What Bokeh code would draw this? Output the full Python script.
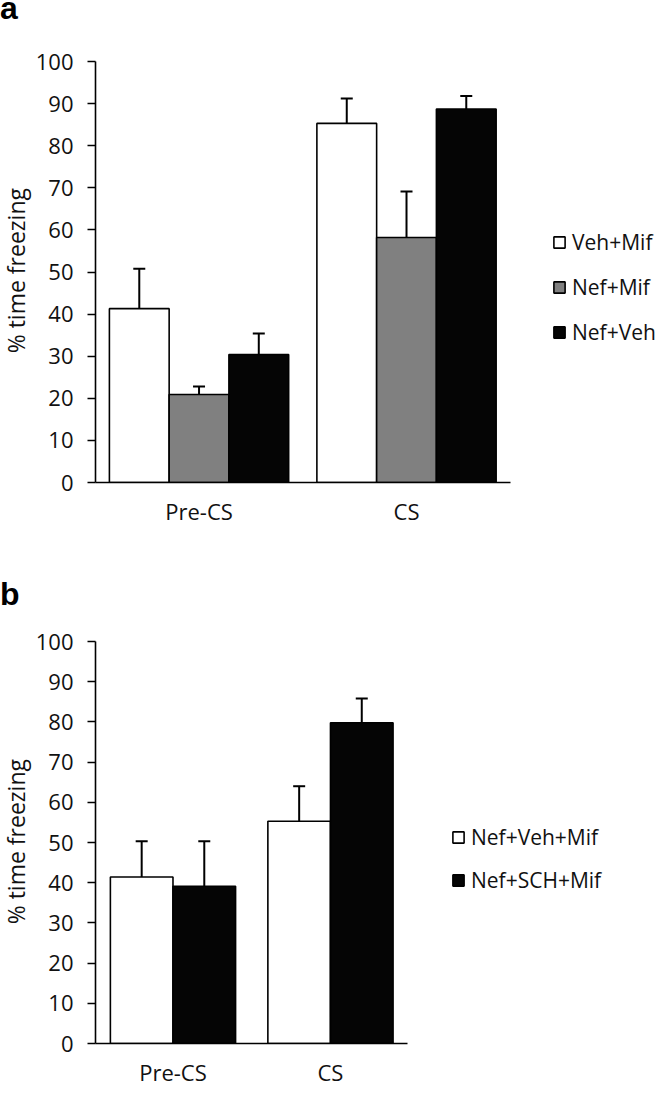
from bokeh.plotting import figure
from bokeh.models import (ColumnDataSource, Range1d, FixedTicker, Div, Legend, LegendItem)
from bokeh.layouts import column, row
from bokeh.embed import file_html
from bokeh.resources import INLINE

# ---------------- data ----------------
groups = ["Pre-CS", "CS"]
y_ticks = [0, 10, 20, 30, 40, 50, 60, 70, 80, 90, 100]
y_title = "% time freezing"

a_series = ["Veh+Mif", "Nef+Mif", "Nef+Veh"]
a_colors = ["#ffffff", "#808080", "#050505"]
a_means = [[41.3, 85.3], [20.9, 58.2], [30.4, 88.7]]
a_errs = [[9.5, 5.9], [1.9, 10.9], [5.0, 3.1]]

b_series = ["Nef+Veh+Mif", "Nef+SCH+Mif"]
b_colors = ["#ffffff", "#050505"]
b_means = [[41.4, 55.3], [39.1, 79.8]]
b_errs = [[8.9, 8.7], [11.2, 6.0]]

FONT = "Open Sans"
W = 658
TW = 32  # width of the y-title strip


def letter_div(letter, height, pad_top):
    html = ('<div style="font-family:\'Liberation Sans\';font-weight:bold;font-size:32px;'
            'line-height:16px;color:black;padding-top:%dpx;margin:0;">%s</div>' % (pad_top, letter))
    return Div(text=html, width=60, height=height, margin=(0, 0, 0, 0))


def title_div(height, center_h):
    html = ('<div style="width:%dpx;height:%dpx;display:flex;align-items:center;'
            'justify-content:center;overflow:visible;">'
            '<span style="writing-mode:vertical-rl;transform:rotate(180deg);'
            'font-family:\'Open Sans\';font-size:23px;line-height:32px;color:#111111;'
            'white-space:nowrap;">%s</span></div>' % (TW, center_h, y_title))
    return Div(text=html, width=TW, height=height, margin=(0, 0, 0, 0))


def make_panel(series, colors, means, errs, height, border_top, frame_h,
               bar_w, x_start, x_end, legend_loc, legend_spacing):
    p = figure(x_range=Range1d(x_start, x_end), y_range=Range1d(0, 100),
               width=W - TW, height=height, output_backend="svg", toolbar_location=None,
               min_border_left=95 - TW, min_border_top=border_top, min_border_right=0,
               min_border_bottom=height - border_top - frame_h, frame_align=False,
               margin=(0, 0, 0, 0))
    p.outline_line_color = None
    p.xgrid.grid_line_color = None
    p.ygrid.grid_line_color = None

    n = len(series)
    gidx = list(range(len(groups)))
    items = []
    for i, (name, col, m, e) in enumerate(zip(series, colors, means, errs)):
        off = (i - (n - 1) / 2.0) * bar_w
        src = ColumnDataSource(dict(x=[g + off for g in gidx], value=m,
                                    upper=[v + d for v, d in zip(m, e)]))
        r = p.vbar(x="x", top="value", width=bar_w, source=src, fill_color=col,
                   line_color="black", line_width=1.6)
        p.segment(x0="x", y0="value", x1="x", y1="upper", source=src,
                  line_color="black", line_width=2)
        p.scatter(x="x", y="upper", marker="dash", size=12, source=src,
                  line_color="black", line_width=2)
        items.append(LegendItem(label=name, renderers=[r]))

    ya = p.yaxis[0]
    ya.ticker = FixedTicker(ticks=y_ticks)
    ya.minor_tick_line_color = None
    ya.major_tick_in = 0
    ya.major_tick_out = 8
    ya.major_tick_line_width = 1.6
    ya.axis_line_width = 1.6
    ya.axis_line_color = "black"
    ya.major_tick_line_color = "black"
    ya.major_label_text_font = FONT
    ya.major_label_text_font_size = "22px"
    ya.major_label_text_color = "#111111"
    ya.major_label_standoff = 14

    xa = p.xaxis[0]
    xa.ticker = FixedTicker(ticks=gidx)
    xa.major_label_overrides = {g: name for g, name in zip(gidx, groups)}
    xa.minor_tick_line_color = None
    xa.major_tick_in = 0
    xa.major_tick_out = 0
    xa.axis_line_width = 1.6
    xa.axis_line_color = "black"
    xa.bounds = (x_start, len(groups) - 1 - x_start)
    xa.major_label_text_font = FONT
    xa.major_label_text_font_size = "22px"
    xa.major_label_text_color = "#111111"
    xa.major_label_standoff = 13

    leg = Legend(items=items, location=legend_loc, orientation="vertical",
                 glyph_width=14, glyph_height=14, label_height=30, label_standoff=6,
                 spacing=legend_spacing, padding=0, margin=0,
                 border_line_color=None, background_fill_alpha=0,
                 label_text_font=FONT, label_text_font_size="21px",
                 label_text_color="#111111")
    p.add_layout(leg, "center")
    return p


div_a = letter_div("a", 22, 0)
pa = make_panel(a_series, a_colors, a_means, a_errs, height=530, border_top=39,
                frame_h=421, bar_w=0.288, x_start=-0.499, x_end=2.2145,
                legend_loc=(457, 135), legend_spacing=15)
div_b = letter_div("b", 55, 34)
pb = make_panel(b_series, b_colors, b_means, b_errs, height=500, border_top=34,
                frame_h=402, bar_w=0.3975, x_start=-0.492, x_end=3.083,
                legend_loc=(356, 148), legend_spacing=13)

layout = column(div_a, row(title_div(530, 497), pa, spacing=0),
                div_b, row(title_div(500, 470), pb, spacing=0), spacing=0)
open("out.html", "w").write(file_html(layout, INLINE))
